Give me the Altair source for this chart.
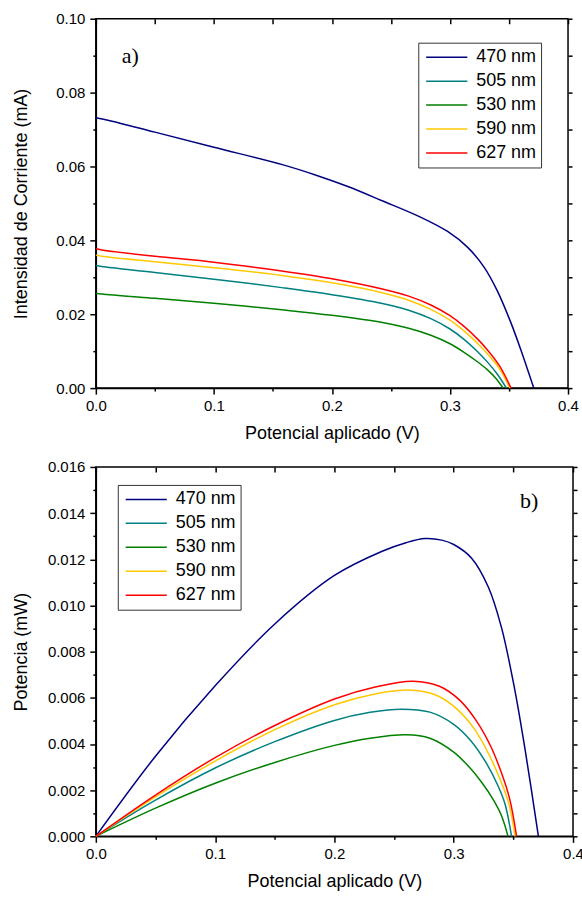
import altair as alt
import pandas as pd

SERIES = ["470 nm", "505 nm", "530 nm", "590 nm", "627 nm"]
COLORS = ["#000080", "#008080", "#008000", "#FFC800", "#FF0000"]

# ---- a) current vs voltage (V, mA) ----
iv_v_470 = [0.000, 0.012, 0.050, 0.100, 0.158, 0.186, 0.214, 0.242, 0.275, 0.298, 0.315, 0.329, 0.340, 0.351, 0.360, 0.371]
iv_i_470 = [0.0732, 0.0724, 0.0693, 0.0652, 0.0605, 0.0577, 0.0545, 0.0508, 0.0463, 0.0424, 0.0381, 0.0327, 0.0264, 0.0182, 0.0104, 0.0000]
iv_v_505 = [0.000, 0.005, 0.050, 0.100, 0.1575, 0.200, 0.2417, 0.265, 0.2838, 0.300, 0.3119, 0.3230, 0.3316, 0.340, 0.3478]
iv_i_505 = [0.0332, 0.0329, 0.0313, 0.0295, 0.0272, 0.0253, 0.0230, 0.0211, 0.0188, 0.0160, 0.0132, 0.0100, 0.0071, 0.0038, 0.0000]
iv_v_530 = [0.000, 0.005, 0.050, 0.100, 0.1575, 0.200, 0.2417, 0.265, 0.2838, 0.300, 0.3119, 0.3230, 0.3316, 0.3390, 0.3450]
iv_i_530 = [0.0257, 0.0255, 0.0243, 0.0230, 0.0212, 0.0197, 0.0178, 0.0162, 0.0143, 0.0120, 0.0097, 0.0072, 0.0050, 0.0026, 0.0000]
iv_v_590 = [0.000, 0.005, 0.050, 0.100, 0.1575, 0.200, 0.2417, 0.265, 0.2838, 0.300, 0.3119, 0.3230, 0.3316, 0.342, 0.3507]
iv_i_590 = [0.0360, 0.0357, 0.0342, 0.0326, 0.0305, 0.0285, 0.0259, 0.0238, 0.0213, 0.0184, 0.0155, 0.0122, 0.0093, 0.0052, 0.0000]
iv_v_627 = [0.000, 0.005, 0.050, 0.100, 0.1575, 0.200, 0.2417, 0.265, 0.2838, 0.300, 0.3119, 0.3230, 0.3316, 0.342, 0.3517]
iv_i_627 = [0.0377, 0.0374, 0.0357, 0.0341, 0.0317, 0.0296, 0.0269, 0.0249, 0.0225, 0.0196, 0.0167, 0.0134, 0.0104, 0.0060, 0.0000]

# ---- b) power vs voltage (V, mW) ----
pv_v_470 = [0.000, 0.050, 0.100, 0.150, 0.200, 0.240, 0.260, 0.276, 0.290, 0.300, 0.315, 0.329, 0.340, 0.351, 0.360, 0.371]
pv_p_470 = [0.0000, 0.00347, 0.00652, 0.00920, 0.01130, 0.01235, 0.01272, 0.01290, 0.01283, 0.01264, 0.01205, 0.01080, 0.00905, 0.00640, 0.00370, 0.0000]
pv_v_505 = [0.000, 0.050, 0.100, 0.150, 0.200, 0.230, 0.256, 0.280, 0.300, 0.315, 0.327, 0.337, 0.343, 0.3485]
pv_p_505 = [0.0000, 0.00157, 0.00296, 0.00410, 0.00502, 0.00537, 0.00551, 0.00538, 0.00485, 0.00410, 0.00320, 0.00220, 0.00140, 0.0000]
pv_v_530 = [0.000, 0.050, 0.100, 0.150, 0.200, 0.230, 0.260, 0.280, 0.300, 0.313, 0.324, 0.333, 0.340, 0.3455]
pv_p_530 = [0.0000, 0.00122, 0.00230, 0.00320, 0.00394, 0.00425, 0.00440, 0.00425, 0.00365, 0.00300, 0.00230, 0.00160, 0.00090, 0.0000]
pv_v_590 = [0.000, 0.050, 0.100, 0.150, 0.200, 0.235, 0.262, 0.285, 0.303, 0.318, 0.330, 0.339, 0.346, 0.3515]
pv_p_590 = [0.0000, 0.00171, 0.00326, 0.00462, 0.00570, 0.00618, 0.00634, 0.00612, 0.00550, 0.00460, 0.00350, 0.00245, 0.00145, 0.0000]
pv_v_627 = [0.000, 0.050, 0.100, 0.150, 0.200, 0.235, 0.266, 0.288, 0.305, 0.319, 0.331, 0.340, 0.347, 0.3527]
pv_p_627 = [0.0000, 0.00179, 0.00341, 0.00480, 0.00595, 0.00648, 0.00672, 0.00650, 0.00590, 0.00500, 0.00390, 0.00275, 0.00160, 0.0000]

X_TICKS = [0.0, 0.05, 0.1, 0.15, 0.2, 0.25, 0.3, 0.35, 0.4]
YI_TICKS = [0.0, 0.01, 0.02, 0.03, 0.04, 0.05, 0.06, 0.07, 0.08, 0.09, 0.1]
YP_TICKS = [0.0, 0.001, 0.002, 0.003, 0.004, 0.005, 0.006, 0.007, 0.008,
            0.009, 0.01, 0.011, 0.012, 0.013, 0.014, 0.015, 0.016]

NOTE_A_TEXT, NOTE_A_V, NOTE_A_Y = "a)", 0.0219, 0.0880
NOTE_B_TEXT, NOTE_B_V, NOTE_B_Y = "b)", 0.3555, 0.01423

FONT = "Liberation Sans"
SERIF = "Liberation Serif"


def frame(vs_list, ys_list, yname):
    rows = []
    for name, vs, ys in zip(SERIES, vs_list, ys_list):
        for v, y in zip(vs, ys):
            rows.append({"serie": name, "V": v, yname: y})
    return pd.DataFrame(rows)


iv_df = frame([iv_v_470, iv_v_505, iv_v_530, iv_v_590, iv_v_627],
              [iv_i_470, iv_i_505, iv_i_530, iv_i_590, iv_i_627], "I")
pv_df = frame([pv_v_470, pv_v_505, pv_v_530, pv_v_590, pv_v_627],
              [pv_p_470, pv_p_505, pv_p_530, pv_p_590, pv_p_627], "P")
note_a = pd.DataFrame({"t": [NOTE_A_TEXT], "V": [NOTE_A_V], "I": [NOTE_A_Y]})
note_b = pd.DataFrame({"t": [NOTE_B_TEXT], "V": [NOTE_B_V], "P": [NOTE_B_Y]})


def panel(df, yfield, ytitle, ydomain, yticks, ymult, yfmt, lx, ly, ytpad, note_df, W, H):
    xtest = "abs(datum.value*10 - round(datum.value*10)) < 1e-6"
    ytest = f"abs(datum.value*{ymult} - round(datum.value*{ymult})) < 1e-6"
    xscale = alt.Scale(domain=[0, 0.4], nice=False, zero=False)
    yscale = alt.Scale(domain=ydomain, nice=False, zero=False)
    xaxis = alt.Axis(values=X_TICKS, title="Potencial aplicado (V)",
                     labelExpr=f"{xtest} ? format(datum.value, '.1f') : ''",
                     tickSize={"condition": {"test": xtest, "value": 6}, "value": 3},
                     labelFlush=False, labelOverlap=False, grid=False,
                     labelPadding=4, titlePadding=11)
    yaxis = alt.Axis(values=yticks, title=ytitle,
                     labelExpr=f"{ytest} ? format(datum.value, '{yfmt}') : ''",
                     tickSize={"condition": {"test": ytest, "value": 6}, "value": 3},
                     labelFlush=False, labelOverlap=False, grid=False,
                     labelPadding=5, titlePadding=ytpad)
    lines = alt.Chart(df).mark_line(strokeWidth=1.5, interpolate="catmull-rom").encode(
        x=alt.X("V:Q", scale=xscale, axis=xaxis),
        y=alt.Y(f"{yfield}:Q", scale=yscale, axis=yaxis),
        color=alt.Color("serie:N", scale=alt.Scale(domain=SERIES, range=COLORS),
                        legend=alt.Legend(title=None, orient="none", legendX=lx, legendY=ly)),
    )
    mirror = alt.Chart(df).mark_point(opacity=0).encode(
        x=alt.X("V:Q", scale=xscale,
                axis=alt.Axis(orient="top", offset=-5, values=X_TICKS, labels=False,
                              domain=False, tickSize=5, title=None, grid=False)),
        y=alt.Y(f"{yfield}:Q", scale=yscale,
                axis=alt.Axis(orient="right", values=yticks, labels=False,
                              domain=False, tickSize=4, title=None, grid=False)),
    )
    note = alt.Chart(note_df).mark_text(font=SERIF, fontSize=22, align="left",
                                         baseline="alphabetic", color="black").encode(
        x=alt.X("V:Q", scale=xscale, axis=None),
        y=alt.Y(f"{yfield}:Q", scale=yscale, axis=None),
        text="t:N",
    )
    return alt.layer(lines, mirror, note).resolve_axis(
        x="independent", y="independent").properties(width=W, height=H)


top = panel(iv_df, "I", "Intensidad de Corriente (mA)", [0, 0.1], YI_TICKS, 50, ".2f",
            323, 24, 25, note_a, 473, 370)
bottom = panel(pv_df, "P", "Potencia (mW)", [0, 0.016], YP_TICKS, 500, ".3f",
               22, 18, 17, note_b, 478, 370)

chart = alt.vconcat(top, bottom, spacing=16).resolve_scale(
    color="independent", x="independent", y="independent"
).resolve_legend(color="independent").properties(
    padding={"left": 11, "top": 10, "right": -3, "bottom": 0}
).configure_axis(
    labelFont=FONT, labelFontSize=15, labelColor="black",
    titleFont=FONT, titleFontSize=18, titleFontWeight="normal", titleColor="black",
    domainColor="black", domainWidth=1.5, tickColor="black", tickWidth=1.5,
).configure_view(
    stroke="black", strokeWidth=1.5
).configure_legend(
    labelFont=FONT, labelFontSize=18, labelColor="black",
    symbolType="stroke", symbolSize=1700, symbolStrokeWidth=1.5,
    strokeColor="#333333", fillColor="white", padding=4,
    symbolOffset=3, labelOffset=8, clipHeight=21, rowPadding=3,
)

chart.save("out.html", embed_options={"renderer": "svg", "actions": False})
